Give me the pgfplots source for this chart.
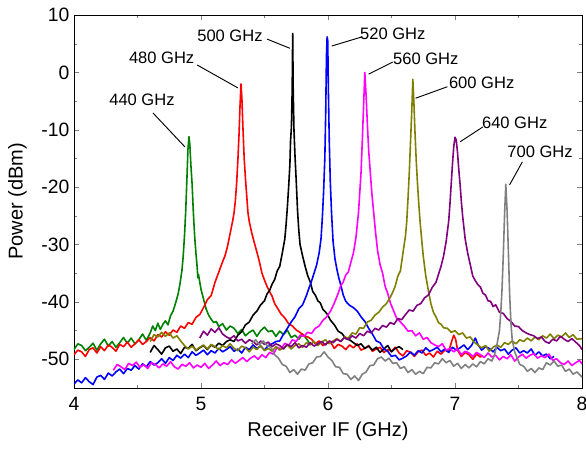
\documentclass[border=0pt]{standalone}
\usepackage{fontspec}
\setmainfont{Liberation Sans}
\usepackage{pgfplots}
\pgfplotsset{compat=1.18}
\usetikzlibrary{calc}

\definecolor{cgreen}{RGB}{0,128,0}
\definecolor{cred}{RGB}{255,0,0}
\definecolor{cblue}{RGB}{0,0,255}
\definecolor{cmag}{RGB}{255,0,255}
\definecolor{colive}{RGB}{128,128,0}
\definecolor{cpurple}{RGB}{128,0,128}
\definecolor{cgray}{RGB}{128,128,128}

\begin{document}
\begin{tikzpicture}
\begin{axis}[
  scale only axis,
  width=381pt, height=279.75pt,
  xmin=4, xmax=8, ymin=-55, ymax=10,
  xtick={4,5,6,7,8}, minor x tick num=1,
  ytick={-50,-40,-30,-20,-10,0,10}, minor y tick num=1,
  tick align=inside,
  major tick length=4pt, minor tick length=2.3pt,
  /pgf/number format/assume math mode=true,
  ticklabel style={font=\fontsize{14.5}{16}\selectfont},
  xticklabel style={yshift=-3.5pt},
  label style={font=\fontsize{15}{17}\selectfont},
  xlabel={Receiver IF (GHz)},
  ylabel={Power (dBm)},
  xlabel style={at={(axis description cs:0.5,-0.1155)}, anchor=center},
  ylabel style={at={(axis description cs:-0.1113,0.5)}, anchor=center},
  every axis plot/.append style={line width=1.2pt, line join=round, mark=none},
  clip=true,
]
% 440 GHz
\addplot[cgreen] coordinates {
(4.00,-48.3)(4.03,-47.3)(4.06,-47.6)(4.09,-48.5)(4.12,-47.9)(4.15,-47.2)(4.18,-48.4)(4.21,-47.3)(4.24,-46.5)(4.27,-47.7)
(4.30,-46.9)(4.33,-47.9)(4.36,-47.1)(4.39,-46.2)(4.42,-47.2)(4.45,-46.3)(4.48,-47.3)(4.51,-46.6)(4.54,-45.6)(4.57,-46.7)
(4.60,-45.4)(4.62,-44.2)(4.64,-45.0)(4.66,-43.7)(4.68,-44.8)(4.70,-43.9)(4.72,-43.3)(4.74,-44.0)(4.76,-42.4)(4.78,-41.6)
(4.80,-40.2)(4.82,-38.6)(4.835,-36.8)(4.85,-34.5)(4.86,-32.0)(4.87,-28.5)(4.88,-24.0)(4.89,-18.0)(4.897,-13.5)(4.905,-11.2)
(4.912,-12.5)(4.92,-16.0)(4.93,-19.5)(4.94,-24.5)(4.95,-28.5)(4.96,-31.5)(4.97,-34.0)(4.975,-35.8)(4.98,-35.2)(4.99,-36.5)
(5.00,-37.8)(5.02,-39.5)(5.04,-41.2)(5.06,-42.3)(5.08,-43.0)(5.10,-43.6)(5.12,-43.4)(5.14,-44.3)(5.17,-43.8)(5.20,-44.9)
(5.23,-44.2)(5.26,-44.6)(5.29,-45.5)(5.32,-44.8)(5.35,-45.9)(5.38,-45.3)(5.41,-44.9)(5.44,-46.0)(5.47,-45.0)(5.50,-44.4)
(5.53,-45.2)(5.56,-45.0)(5.59,-46.0)(5.62,-45.1)(5.65,-45.7)(5.68,-44.9)(5.71,-46.2)(5.74,-45.8)(5.77,-46.5)(5.80,-45.6)
(5.83,-46.4)(5.86,-47.4)
};
% 480 GHz
\addplot[cred] coordinates {
(4.00,-49.2)(4.03,-48.4)(4.06,-48.7)(4.09,-49.5)(4.12,-48.3)(4.15,-48.0)(4.18,-48.9)(4.21,-47.8)(4.24,-48.5)(4.27,-47.5)
(4.30,-47.9)(4.33,-48.6)(4.36,-47.4)(4.39,-47.8)(4.42,-47.0)(4.45,-47.9)(4.48,-47.3)(4.51,-46.6)(4.54,-47.4)(4.57,-46.9)
(4.60,-46.2)(4.63,-46.8)(4.66,-45.7)(4.69,-46.1)(4.72,-45.2)(4.75,-45.8)(4.78,-44.9)(4.81,-45.3)(4.84,-44.2)(4.87,-44.6)
(4.90,-43.6)(4.93,-43.9)(4.96,-42.7)(4.99,-42.2)(5.02,-41.0)(5.05,-39.6)(5.08,-38.9)(5.11,-36.6)(5.13,-35.4)(5.15,-34.2)
(5.17,-33.0)(5.19,-31.9)(5.21,-30.2)(5.23,-28.0)(5.25,-25.8)(5.26,-24.5)(5.27,-22.5)(5.28,-19.5)(5.29,-15.5)(5.30,-10.5)
(5.307,-6.0)(5.315,-2.0)(5.322,-4.5)(5.33,-9.5)(5.34,-15.0)(5.35,-18.5)(5.36,-21.5)(5.37,-24.5)(5.38,-26.0)(5.40,-28.0)
(5.42,-29.7)(5.44,-31.3)(5.46,-33.0)(5.48,-35.0)(5.50,-36.2)(5.52,-37.3)(5.54,-38.2)(5.56,-39.0)(5.58,-40.3)(5.60,-41.0)
(5.63,-42.1)(5.66,-42.8)(5.69,-43.8)(5.72,-44.2)(5.75,-44.9)(5.78,-45.3)(5.81,-45.9)(5.84,-46.1)(5.87,-46.5)(5.90,-47.3)
(5.93,-46.8)(5.96,-47.6)(5.99,-47.2)(6.02,-47.0)(6.05,-48.1)(6.08,-47.4)(6.11,-47.7)(6.14,-48.3)(6.17,-47.5)(6.20,-48.0)
(6.23,-47.3)(6.26,-48.4)(6.29,-48.1)(6.32,-47.6)(6.35,-48.6)(6.38,-48.2)(6.41,-47.9)(6.44,-48.8)(6.47,-48.3)(6.50,-48.6)
(6.53,-47.9)(6.56,-48.9)(6.59,-49.4)(6.62,-48.5)(6.65,-48.8)(6.68,-49.5)(6.71,-48.7)(6.74,-48.4)(6.77,-49.3)(6.80,-48.9)
(6.83,-49.6)(6.86,-48.6)(6.89,-49.1)(6.92,-48.4)(6.95,-48.7)(6.975,-46.8)(6.99,-45.8)(7.005,-46.5)(7.02,-48.4)(7.05,-49.5)
(7.08,-48.8)(7.11,-49.2)(7.14,-50.0)(7.17,-49.1)(7.20,-49.6)(7.22,-49.3)
};
% 500 GHz
\addplot[black] coordinates {
(4.60,-48.8)(4.63,-47.6)(4.66,-48.3)(4.69,-49.1)(4.72,-48.0)(4.75,-47.7)(4.78,-48.6)(4.81,-48.2)(4.84,-49.0)(4.87,-47.9)
(4.90,-48.1)(4.93,-47.4)(4.96,-48.5)(4.99,-48.0)(5.02,-47.6)(5.05,-48.3)(5.08,-47.5)(5.11,-47.9)(5.14,-47.2)(5.17,-47.6)
(5.20,-46.9)(5.23,-46.6)(5.26,-46.9)(5.29,-45.8)(5.32,-45.2)(5.35,-44.0)(5.38,-43.5)(5.41,-42.3)(5.44,-41.6)(5.47,-40.5)
(5.50,-39.8)(5.52,-38.6)(5.54,-38.0)(5.56,-36.9)(5.58,-36.1)(5.60,-34.6)(5.62,-33.8)(5.64,-31.5)(5.66,-29.0)(5.67,-26.5)
(5.68,-23.5)(5.69,-20.0)(5.70,-16.0)(5.705,-12.0)(5.712,-9.5)(5.718,-3.0)(5.722,6.8)(5.726,-3.0)(5.732,-10.0)(5.74,-14.5)
(5.75,-19.0)(5.76,-24.0)(5.77,-27.5)(5.78,-30.0)(5.80,-32.0)(5.82,-33.8)(5.84,-35.4)(5.86,-36.5)(5.88,-38.2)(5.90,-38.8)
(5.92,-39.8)(5.94,-40.2)(5.96,-41.3)(5.99,-42.0)(6.02,-43.2)(6.05,-44.0)(6.08,-45.1)(6.11,-45.5)(6.14,-46.4)(6.17,-46.6)
(6.20,-47.1)(6.23,-47.6)(6.26,-47.3)(6.29,-48.1)(6.32,-47.7)(6.35,-48.4)(6.38,-47.9)(6.41,-48.8)(6.44,-48.2)(6.47,-47.6)
(6.50,-48.7)(6.53,-48.1)(6.56,-47.8)(6.59,-48.3)
};
% 520 GHz
\addplot[cblue] coordinates {
(4.00,-54.3)(4.03,-53.6)(4.06,-54.1)(4.09,-53.2)(4.12,-53.9)(4.15,-54.4)(4.18,-53.1)(4.21,-52.8)(4.24,-53.5)(4.27,-52.4)
(4.30,-52.9)(4.33,-52.2)(4.36,-51.7)(4.39,-52.5)(4.42,-51.6)(4.45,-51.9)(4.48,-51.1)(4.51,-51.7)(4.54,-50.8)(4.57,-51.3)
(4.60,-50.4)(4.63,-51.0)(4.66,-50.6)(4.69,-49.9)(4.72,-50.7)(4.75,-49.7)(4.78,-50.2)(4.81,-49.3)(4.84,-49.8)(4.87,-49.1)
(4.90,-49.7)(4.93,-48.7)(4.96,-49.3)(4.99,-48.9)(5.02,-48.4)(5.05,-49.2)(5.08,-48.5)(5.11,-48.9)(5.14,-48.1)(5.17,-48.7)
(5.20,-48.3)(5.23,-47.8)(5.26,-48.6)(5.29,-48.2)(5.32,-48.9)(5.35,-47.9)(5.38,-48.3)(5.41,-47.5)(5.44,-48.1)(5.47,-47.7)
(5.50,-48.4)(5.53,-47.6)(5.56,-47.3)(5.59,-46.9)(5.62,-46.8)(5.65,-45.6)(5.68,-44.6)(5.71,-43.5)(5.74,-42.6)(5.77,-41.2)
(5.80,-40.5)(5.83,-38.9)(5.85,-37.6)(5.87,-36.4)(5.89,-35.0)(5.91,-33.6)(5.93,-31.5)(5.945,-29.0)(5.955,-25.5)(5.965,-21.0)
(5.975,-15.0)(5.982,-7.0)(5.988,3.0)(5.993,6.2)(5.998,5.5)(6.003,-3.0)(6.01,-12.0)(6.018,-19.0)(6.028,-24.5)(6.04,-29.5)
(6.055,-32.5)(6.07,-34.3)(6.085,-35.8)(6.10,-37.0)(6.12,-38.8)(6.14,-39.9)(6.17,-40.6)(6.20,-41.0)(6.23,-41.6)(6.26,-42.6)
(6.29,-43.4)(6.32,-44.6)(6.35,-45.6)(6.38,-46.8)(6.41,-47.1)(6.44,-48.2)(6.47,-48.6)(6.50,-49.5)(6.53,-49.3)(6.56,-50.1)
(6.59,-49.8)(6.62,-49.4)(6.65,-48.7)(6.68,-49.3)(6.71,-48.5)(6.74,-48.9)(6.77,-48.0)(6.80,-48.6)(6.83,-48.3)(6.86,-47.9)
(6.89,-48.7)(6.92,-48.2)(6.95,-48.8)(6.98,-47.9)(7.01,-48.4)(7.04,-48.0)(7.07,-47.5)(7.10,-48.3)(7.13,-47.6)(7.16,-46.3)
(7.18,-47.4)(7.21,-48.4)(7.24,-47.8)(7.27,-48.1)(7.30,-48.7)(7.33,-47.9)(7.36,-48.5)(7.39,-48.2)(7.42,-49.1)(7.45,-48.4)
(7.48,-48.0)(7.51,-48.9)(7.54,-48.5)(7.57,-48.9)(7.60,-48.2)(7.63,-49.3)(7.66,-48.7)(7.69,-49.4)(7.72,-49.1)(7.75,-49.9)
(7.78,-49.5)
};
% 560 GHz
\addplot[cmag] coordinates {
(4.31,-51.9)(4.34,-50.9)(4.37,-51.3)(4.40,-51.8)(4.43,-50.7)(4.46,-51.1)(4.49,-50.5)(4.52,-51.4)(4.55,-50.9)(4.58,-51.6)
(4.61,-50.6)(4.64,-50.9)(4.67,-51.5)(4.70,-50.8)(4.73,-51.2)(4.76,-50.4)(4.79,-51.3)(4.82,-51.7)(4.85,-50.9)(4.88,-51.2)
(4.91,-50.6)(4.94,-51.5)(4.97,-51.0)(5.00,-51.4)(5.03,-50.7)(5.06,-51.6)(5.09,-51.0)(5.12,-50.3)(5.15,-51.1)(5.18,-50.6)
(5.21,-50.9)(5.24,-50.1)(5.27,-50.7)(5.30,-50.2)(5.33,-49.7)(5.36,-50.4)(5.39,-49.8)(5.42,-49.4)(5.45,-50.0)(5.48,-49.2)
(5.51,-49.7)(5.54,-48.8)(5.57,-49.1)(5.60,-47.9)(5.63,-48.2)(5.66,-47.2)(5.69,-47.6)(5.72,-46.6)(5.75,-46.9)(5.78,-45.8)
(5.81,-46.0)(5.84,-45.3)(5.87,-45.5)(5.90,-44.6)(5.93,-44.2)(5.96,-43.2)(5.99,-42.6)(6.02,-41.6)(6.05,-40.2)(6.08,-38.5)
(6.10,-37.2)(6.12,-36.5)(6.14,-35.3)(6.16,-34.8)(6.18,-33.1)(6.20,-31.5)(6.22,-28.8)(6.24,-24.5)(6.25,-21.0)(6.26,-17.5)
(6.27,-12.0)(6.28,-6.0)(6.29,0.0)(6.30,-4.0)(6.31,-9.0)(6.32,-13.5)(6.335,-18.0)(6.345,-21.0)(6.36,-24.5)(6.375,-28.0)
(6.39,-31.0)(6.41,-33.5)(6.43,-35.0)(6.45,-37.3)(6.47,-38.5)(6.49,-40.1)(6.51,-41.2)(6.54,-42.8)(6.57,-43.5)(6.60,-44.2)
(6.63,-45.1)(6.66,-45.0)(6.69,-45.9)(6.72,-45.4)(6.75,-46.5)(6.78,-46.2)(6.81,-47.1)(6.84,-47.5)(6.87,-47.8)(6.90,-47.3)
(6.93,-48.4)(6.96,-48.1)(6.99,-48.7)(7.02,-48.2)(7.05,-49.2)(7.08,-48.6)(7.11,-48.9)(7.14,-49.5)(7.17,-48.8)(7.20,-49.2)
(7.23,-49.7)(7.26,-48.9)(7.29,-49.6)(7.32,-49.3)(7.35,-50.1)(7.38,-49.5)(7.41,-49.9)(7.44,-49.2)(7.47,-50.3)(7.50,-49.6)
(7.53,-49.1)(7.56,-49.8)(7.59,-49.3)(7.62,-49.0)(7.65,-49.8)(7.68,-49.4)(7.71,-49.7)(7.74,-49.1)(7.77,-50.2)(7.80,-49.9)
(7.83,-50.6)(7.86,-50.9)(7.89,-50.3)(7.92,-51.1)(7.95,-50.6)(7.98,-50.2)(8.00,-50.8)
};
% 600 GHz
\addplot[colive] coordinates {
(4.60,-46.9)(4.63,-45.7)(4.66,-46.1)(4.69,-45.3)(4.72,-46.0)(4.75,-45.4)(4.78,-46.3)(4.81,-45.9)(4.84,-46.8)(4.87,-47.6)
(4.90,-48.2)(4.93,-47.7)(4.96,-48.4)(4.99,-47.9)(5.02,-47.5)(5.05,-48.2)(5.08,-47.4)(5.11,-47.8)(5.14,-48.3)(5.17,-47.6)
(5.20,-48.0)(5.23,-47.3)(5.26,-48.1)(5.29,-48.5)(5.32,-47.7)(5.35,-48.0)(5.38,-48.7)(5.41,-47.9)(5.44,-48.3)(5.47,-47.6)
(5.50,-48.5)(5.53,-48.1)(5.56,-48.6)(5.59,-47.8)(5.62,-48.4)(5.65,-48.0)(5.68,-47.5)(5.71,-48.2)(5.74,-47.6)(5.77,-47.3)
(5.80,-47.9)(5.83,-47.1)(5.86,-47.5)(5.89,-46.9)(5.92,-47.6)(5.95,-47.0)(5.98,-46.6)(6.01,-47.3)(6.04,-46.8)(6.07,-46.4)
(6.10,-46.9)(6.13,-46.1)(6.16,-46.3)(6.19,-45.4)(6.22,-45.6)(6.25,-44.5)(6.28,-44.6)(6.31,-43.5)(6.34,-43.2)(6.37,-42.3)
(6.40,-41.8)(6.43,-40.9)(6.46,-40.3)(6.49,-39.2)(6.51,-38.3)(6.53,-37.2)(6.55,-35.5)(6.57,-34.6)(6.59,-31.5)(6.61,-28.5)
(6.62,-26.0)(6.63,-22.0)(6.64,-17.5)(6.65,-12.0)(6.66,-6.5)(6.668,-1.2)(6.676,-5.0)(6.685,-10.5)(6.695,-15.5)(6.705,-19.5)
(6.715,-23.0)(6.725,-26.0)(6.735,-28.5)(6.75,-32.0)(6.77,-35.5)(6.79,-38.0)(6.81,-40.3)(6.83,-41.8)(6.85,-42.6)(6.87,-43.6)
(6.89,-43.9)(6.91,-44.5)(6.94,-44.6)(6.97,-45.3)(7.00,-45.0)(7.03,-45.7)(7.06,-45.4)(7.09,-46.3)(7.12,-46.1)(7.15,-47.0)
(7.18,-47.5)(7.21,-48.0)(7.24,-47.6)(7.27,-48.6)(7.30,-47.9)(7.33,-47.5)(7.36,-47.9)(7.39,-47.1)(7.42,-47.4)(7.45,-46.8)
(7.48,-47.3)(7.51,-46.6)(7.54,-46.9)(7.57,-46.3)(7.60,-46.8)(7.63,-46.1)(7.66,-46.6)(7.69,-45.9)(7.72,-46.3)(7.75,-45.6)
(7.78,-46.4)(7.81,-45.8)(7.84,-46.1)(7.87,-45.4)(7.90,-46.2)(7.93,-45.7)(7.96,-46.5)(8.00,-46.4)
};
% 640 GHz
\addplot[cpurple] coordinates {
(4.99,-46.3)(5.02,-45.1)(5.05,-45.8)(5.08,-44.7)(5.11,-45.3)(5.14,-44.5)(5.17,-45.6)(5.20,-46.1)(5.23,-46.4)(5.26,-45.9)
(5.29,-46.8)(5.32,-46.5)(5.35,-47.2)(5.38,-46.6)(5.41,-46.9)(5.44,-47.5)(5.47,-46.8)(5.50,-47.4)(5.53,-47.0)(5.56,-47.8)
(5.59,-47.3)(5.62,-47.6)(5.65,-48.2)(5.68,-47.4)(5.71,-47.8)(5.74,-47.1)(5.77,-48.0)(5.80,-47.6)(5.83,-47.9)(5.86,-47.1)
(5.89,-47.7)(5.92,-47.3)(5.95,-46.9)(5.98,-47.5)(6.01,-46.8)(6.04,-47.1)(6.07,-46.5)(6.10,-46.9)(6.13,-46.2)(6.16,-46.6)
(6.19,-45.9)(6.22,-46.3)(6.25,-45.5)(6.28,-45.9)(6.31,-45.1)(6.34,-45.4)(6.37,-44.6)(6.40,-44.9)(6.43,-44.1)(6.46,-44.4)
(6.49,-43.6)(6.52,-43.9)(6.55,-42.9)(6.58,-43.1)(6.61,-42.2)(6.64,-41.4)(6.67,-41.6)(6.70,-40.6)(6.73,-40.3)(6.76,-39.3)
(6.79,-38.8)(6.82,-37.5)(6.85,-36.6)(6.87,-35.2)(6.89,-33.8)(6.91,-32.0)(6.93,-29.5)(6.95,-26.0)(6.96,-23.0)(6.97,-19.5)
(6.98,-16.0)(6.99,-13.0)(7.00,-11.3)(7.01,-11.8)(7.02,-14.0)(7.03,-17.0)(7.04,-19.5)(7.05,-22.5)(7.06,-25.0)(7.07,-27.0)
(7.08,-29.0)(7.10,-31.5)(7.12,-33.5)(7.14,-35.5)(7.16,-36.3)(7.18,-37.0)(7.20,-37.4)(7.22,-38.5)(7.24,-38.8)(7.26,-39.8)
(7.28,-39.9)(7.30,-40.8)(7.32,-40.5)(7.35,-41.8)(7.38,-42.0)(7.41,-42.9)(7.44,-43.4)(7.47,-44.2)(7.50,-44.3)(7.53,-45.0)
(7.56,-45.4)(7.59,-45.7)(7.62,-45.9)(7.65,-46.4)(7.68,-46.1)(7.71,-46.9)(7.74,-47.2)(7.77,-46.5)(7.80,-46.8)(7.83,-46.0)
(7.86,-46.5)(7.89,-46.9)(7.92,-46.4)(7.95,-47.0)(7.98,-47.6)(8.00,-48.3)
};
% 700 GHz
\addplot[cgray] coordinates {
(5.40,-47.3)(5.43,-46.6)(5.46,-47.5)(5.49,-46.8)(5.52,-47.6)(5.55,-47.9)(5.58,-49.2)(5.61,-49.8)(5.64,-50.9)(5.67,-51.2)
(5.70,-52.3)(5.73,-51.8)(5.76,-52.6)(5.79,-51.7)(5.82,-51.9)(5.85,-50.8)(5.88,-50.6)(5.91,-49.6)(5.94,-49.5)(5.97,-48.7)
(6.00,-49.6)(6.03,-50.2)(6.06,-51.3)(6.09,-51.4)(6.12,-52.5)(6.15,-52.6)(6.18,-53.5)(6.21,-52.9)(6.24,-53.7)(6.27,-52.6)
(6.30,-52.2)(6.33,-51.1)(6.36,-51.0)(6.39,-49.9)(6.42,-49.6)(6.45,-50.3)(6.48,-49.8)(6.51,-50.7)(6.54,-50.6)(6.57,-51.6)
(6.60,-51.3)(6.63,-52.3)(6.66,-51.8)(6.69,-52.6)(6.72,-52.1)(6.75,-52.5)(6.78,-51.4)(6.81,-51.5)(6.84,-50.6)(6.87,-50.8)
(6.90,-49.9)(6.93,-50.6)(6.96,-50.2)(6.99,-51.2)(7.02,-50.7)(7.05,-51.6)(7.08,-50.9)(7.11,-51.5)(7.14,-50.8)(7.17,-51.3)
(7.20,-50.4)(7.23,-50.8)(7.26,-49.9)(7.29,-50.3)(7.31,-49.3)(7.33,-47.5)(7.35,-45.0)(7.36,-42.0)(7.37,-38.0)(7.38,-32.0)
(7.39,-25.0)(7.40,-19.5)(7.41,-24.0)(7.42,-31.0)(7.43,-38.5)(7.44,-43.5)(7.45,-46.5)(7.47,-48.7)(7.49,-49.8)(7.51,-50.9)
(7.54,-51.2)(7.57,-52.1)(7.60,-51.6)(7.63,-52.3)(7.66,-51.5)(7.69,-51.8)(7.72,-50.6)(7.75,-51.0)(7.78,-50.3)(7.81,-51.2)
(7.84,-51.0)(7.87,-52.1)(7.90,-51.7)(7.93,-52.6)(7.96,-52.2)(8.00,-53.1)
};
% annotations
\begin{scope}[every node/.style={font=\fontsize{12.4}{14}\selectfont, inner sep=0pt}]
\draw[black, line width=0.7pt] (axis cs:4.622,-7.07) -- (axis cs:4.874,-13.0);
\node at (axis cs:4.535,-4.8) {440 GHz};
\draw[black, line width=0.7pt] (axis cs:4.969,1.3) -- (axis cs:5.29,-2.7);
\node at (axis cs:4.69,2.5) {480 GHz};
\draw[black, line width=0.7pt] (axis cs:5.52,5.8) -- (axis cs:5.70,4.2);
\node at (axis cs:5.228,6.3) {500 GHz};
\draw[black, line width=0.7pt] (axis cs:6.27,6.2) -- (axis cs:6.03,4.6);
\node at (axis cs:6.51,6.7) {520 GHz};
\draw[black, line width=0.7pt] (axis cs:6.51,1.8) -- (axis cs:6.32,-0.3);
\node at (axis cs:6.77,2.3) {560 GHz};
\draw[black, line width=0.7pt] (axis cs:6.94,-2.5) -- (axis cs:6.69,-4.5);
\node at (axis cs:7.21,-1.8) {600 GHz};
\draw[black, line width=0.7pt] (axis cs:7.22,-9.5) -- (axis cs:7.04,-12.1);
\node at (axis cs:7.47,-8.8) {640 GHz};
\draw[black, line width=0.7pt] (axis cs:7.53,-15.6) -- (axis cs:7.43,-19.6);
\node at (axis cs:7.67,-13.9) {700 GHz};
\end{scope}
\end{axis}
\pgfresetboundingbox
\useasboundingbox ($(current axis.south west)+(-55.5pt,-45.75pt)$) rectangle ($(current axis.north east)+(3pt,11.25pt)$);
\end{tikzpicture}
\end{document}
